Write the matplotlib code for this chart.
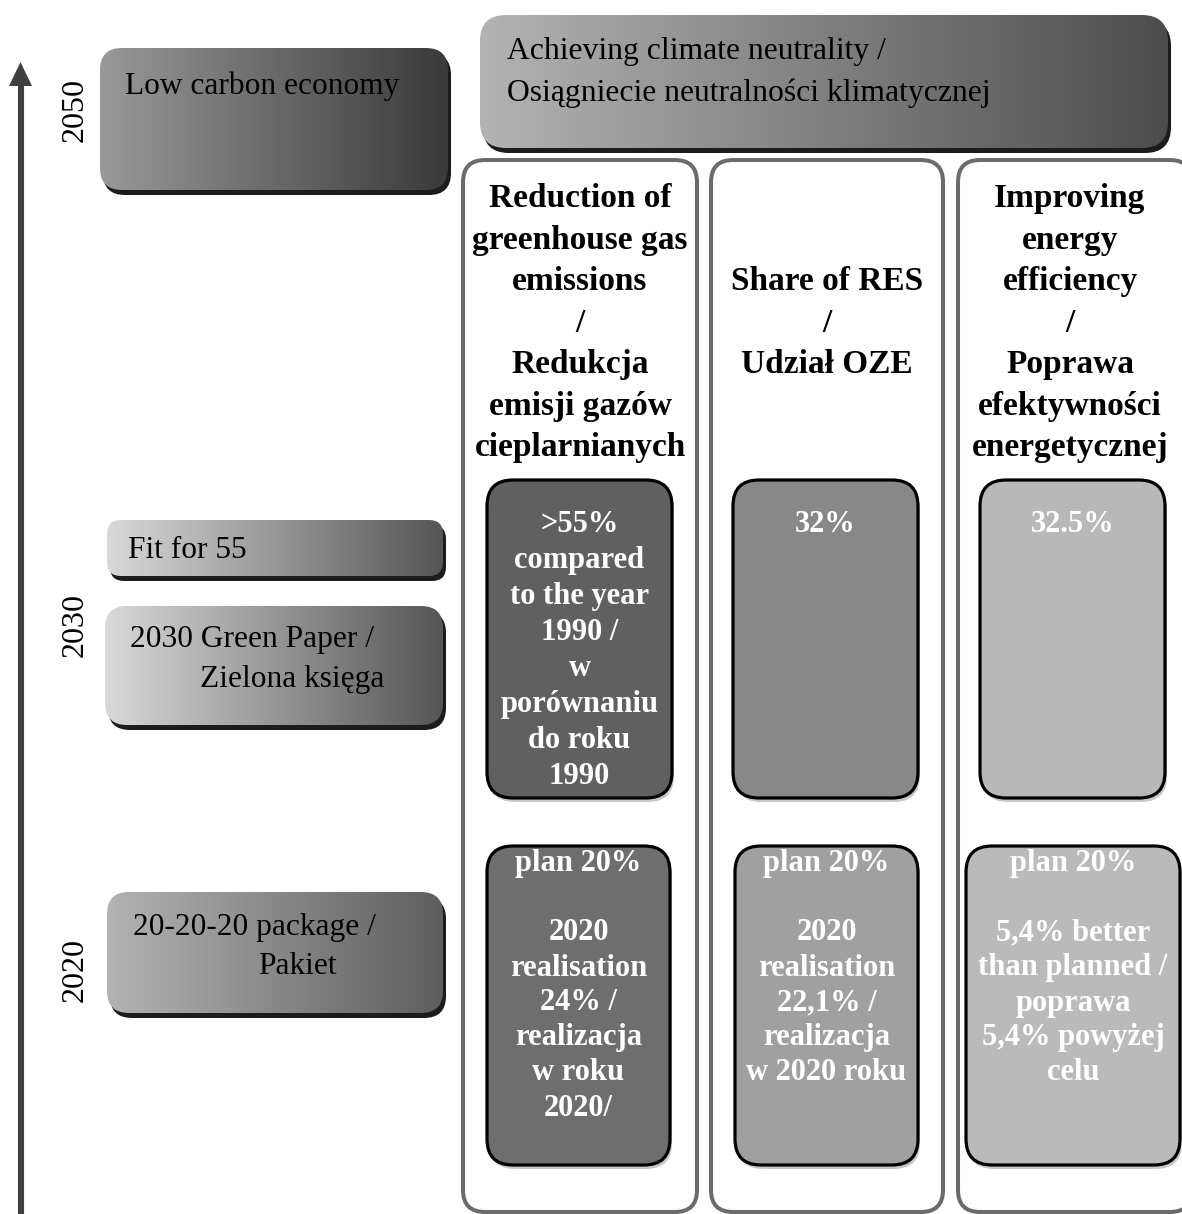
import matplotlib
matplotlib.use("Agg")
import matplotlib.pyplot as plt
import numpy as np
from matplotlib.patches import FancyBboxPatch, Polygon
from matplotlib.colors import LinearSegmentedColormap

W, H = 1182, 1214
SERIF = "Liberation Serif"

# ---- content ----
years = ["2050", "2030", "2020"]
year_y = [110, 625, 970]

left_boxes = [
    ["Low carbon economy"],
    ["Fit for 55"],
    ["2030 Green Paper /", "Zielona księga"],
    ["20-20-20 package /", "Pakiet"],
]
top_box = ["Achieving climate neutrality /", "Osiągniecie neutralności klimatycznej"]

headers = [
    ["Reduction of", "greenhouse gas", "emissions", "/", "Redukcja", "emisji gazów", "cieplarnianych"],
    ["Share of RES", "/", "Udział OZE"],
    ["Improving", "energy", "efficiency", "/", "Poprawa", "efektywności", "energetycznej"],
]
targets_2030 = [
    [">55%", "compared", "to the year", "1990 /", "w", "porównaniu", "do roku", "1990"],
    ["32%"],
    ["32.5%"],
]
results_2020 = [
    ["plan 20%", "", "2020", "realisation", "24% /", "realizacja", "w roku", "2020/"],
    ["plan 20%", "", "2020", "realisation", "22,1% /", "realizacja", "w 2020 roku"],
    ["plan 20%", "", "5,4% better", "than planned /", "poprawa", "5,4% powyżej", "celu"],
]

fig = plt.figure(figsize=(W / 100, H / 100), dpi=100)
ax = fig.add_axes([0, 0, 1, 1])
ax.set_xlim(0, W)
ax.set_ylim(H, 0)
ax.axis("off")


def grad_box(x0, y0, x1, y1, cl, cr, r, z=2, shadow=True):
    w, h = x1 - x0, y1 - y0
    if shadow:
        ax.add_patch(FancyBboxPatch((x0 + 3, y0 + 5), w, h,
                                    boxstyle=f"round,pad=0,rounding_size={r}",
                                    fc="#1c1c1c", ec="none", zorder=z - 0.5))
    clip = FancyBboxPatch((x0, y0), w, h, boxstyle=f"round,pad=0,rounding_size={r}",
                          fc="none", ec="none", zorder=z)
    ax.add_patch(clip)
    cmap = LinearSegmentedColormap.from_list("g", [cl, cr])
    grad = np.linspace(0, 1, 256).reshape(1, -1)
    im = ax.imshow(grad, extent=(x0, x1, y1, y0), cmap=cmap, aspect="auto",
                   zorder=z, interpolation="bilinear")
    im.set_clip_path(clip)


# ---- arrow ----
ax.plot([20.5, 20.5], [H + 5, 80], color="#404040", lw=4.4, solid_capstyle="butt", zorder=3)
ax.add_patch(Polygon([[9, 86], [32, 86], [20.5, 62]], closed=True, fc="#404040", ec="none", zorder=3))

for y, yr in zip(year_y, years):
    ax.text(75, y, yr, rotation=90, ha="center", va="center", fontsize=23, family=SERIF)

# ---- left boxes ----
lb_geom = [(100, 48, 448, 190), (107, 520, 443, 576), (105, 606, 443, 725), (107, 892, 443, 1013)]
lb_cols = [("#999999", "#3a3a3a"), ("#d9d9d9", "#555555"), ("#d9d9d9", "#555555"), ("#b3b3b3", "#5e5e5e")]
lb_text_pos = [[(125, 86)], [(128, 551)], [(130, 640), (200, 680)], [(133, 928), (258, 966)]]
for (x0, y0, x1, y1), (cl, cr), lines, pos in zip(lb_geom, lb_cols, left_boxes, lb_text_pos):
    r = 22 if (y1 - y0) > 80 else 14
    grad_box(x0, y0, x1, y1, cl, cr, r)
    for t, (tx, ty) in zip(lines, pos):
        ax.text(tx, ty, t, ha="left", va="center", fontsize=22.6, family=SERIF, zorder=5)

# ---- top box ----
grad_box(480, 15, 1168, 148, "#b3b3b3", "#4d4d4d", 26)
for i, t in enumerate(top_box):
    ax.text(507, 51 + i * 42, t, ha="left", va="center", fontsize=22.8, family=SERIF, zorder=5)

# ---- columns ----
col_x = [(463, 697), (711, 943), (958, 1192)]
for (x0, x1) in col_x:
    ax.add_patch(FancyBboxPatch((x0, 160), x1 - x0, 1052, boxstyle="round,pad=0,rounding_size=22",
                                fc="white", ec="#6b6b6b", lw=2.9, zorder=1))

head_step = 41.5
for (x0, x1), lines in zip(col_x, headers):
    cx = (x0 + x1) / 2 if x1 < 1180 else 1070
    n = len(lines)
    for i, t in enumerate(lines):
        y = 323 + (i - (n - 1) / 2) * head_step
        ax.text(cx, y, t, ha="center", va="center", fontsize=24, family=SERIF,
                fontweight="bold", zorder=5)

# ---- inner boxes ----
row1_geom = [(487, 480, 672, 798), (733, 480, 918, 798), (980, 480, 1165, 798)]
row1_fill = ["#606060", "#888888", "#b8b8b8"]
row2_geom = [(487, 846, 670, 1165), (735, 846, 918, 1165), (966, 846, 1180, 1165)]
row2_fill = ["#6e6e6e", "#a0a0a0", "#bababa"]


def inner(geom, fill, lines, y_first, step):
    x0, y0, x1, y1 = geom
    ax.add_patch(FancyBboxPatch((x0 + 2, y0 + 4), x1 - x0, y1 - y0,
                                boxstyle="round,pad=0,rounding_size=26",
                                fc="#c8c8c8", ec="none", zorder=2))
    ax.add_patch(FancyBboxPatch((x0, y0), x1 - x0, y1 - y0,
                                boxstyle="round,pad=0,rounding_size=26",
                                fc=fill, ec="black", lw=2.3, zorder=3))
    cx = (x0 + x1) / 2
    for i, t in enumerate(lines):
        ax.text(cx, y_first + i * step, t, ha="center", va="center", fontsize=22,
                family=SERIF, fontweight="bold", color="white", zorder=5)


for g, f, lines in zip(row1_geom, row1_fill, targets_2030):
    inner(g, f, lines, 525, 35.9)
for g, f, lines in zip(row2_geom, row2_fill, results_2020):
    inner(g, f, lines, 863, 35.0)

fig.savefig("out.png", dpi=100)
